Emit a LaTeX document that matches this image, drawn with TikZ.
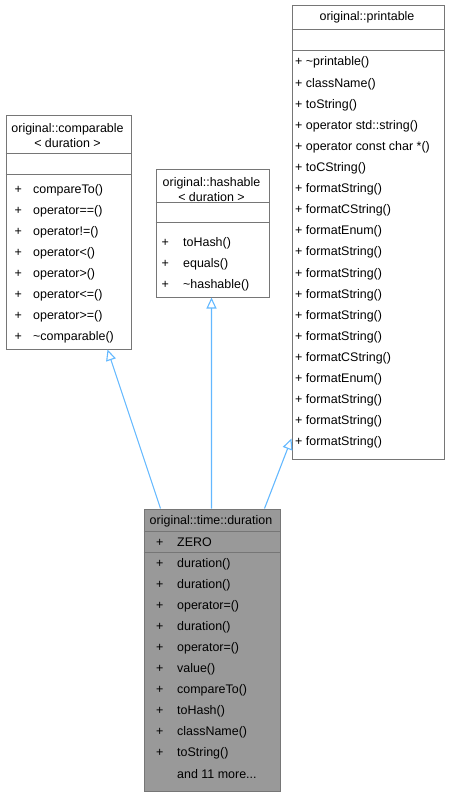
\documentclass[tikz,border=0pt]{standalone}
\usepackage{fontspec}
\setmainfont{Liberation Sans}
\usetikzlibrary{arrows.meta,positioning}
\definecolor{edge}{HTML}{63B8FF}
\definecolor{frame}{HTML}{767676}
\definecolor{current}{HTML}{999999}

\begin{document}
\begin{tikzpicture}[x=1bp,y=-1bp,font=\fontsize{12.5}{15}\selectfont,>={Triangle[open,length=11bp,width=10bp]}]
  \tikzset{cls/.style={draw=frame,line width=1bp,fill=white,anchor=north west,inner sep=0pt},
    sep/.style={draw=frame,line width=1bp},
    member/.style={anchor=base west,inner sep=0pt},
    title/.style={inner sep=0pt,align=center},
    inherit/.style={->,draw=edge,line width=1.1bp}}
  \useasboundingbox (0,0) rectangle (449,795);
  \node[cls,minimum width=125bp,minimum height=234bp] (comparable) at (5.5,114.5) {};
  \node[cls,minimum width=113bp,minimum height=128bp] (hashable) at (155.5,168.5) {};
  \node[cls,minimum width=152bp,minimum height=453bp] (printable) at (291.5,5.5) {};
  \node[cls,fill=current,minimum width=136bp,minimum height=282bp] (duration) at (143.5,508.5) {};
  \draw[sep] ([yshift=-39bp]comparable.north west) -- ([yshift=-39bp]comparable.north east);
  \draw[sep] ([yshift=-60bp]comparable.north west) -- ([yshift=-60bp]comparable.north east);
  \draw[sep] ([yshift=-34bp]hashable.north west) -- ([yshift=-34bp]hashable.north east);
  \draw[sep] ([yshift=-54bp]hashable.north west) -- ([yshift=-54bp]hashable.north east);
  \draw[sep] ([yshift=-24bp]printable.north west) -- ([yshift=-24bp]printable.north east);
  \draw[sep] ([yshift=-45bp]printable.north west) -- ([yshift=-45bp]printable.north east);
  \draw[sep] ([yshift=-23bp]duration.north west) -- ([yshift=-23bp]duration.north east);
  \draw[sep] ([yshift=-44bp]duration.north west) -- ([yshift=-44bp]duration.north east);
  \node[title] (comparable-name) at (67.5,136) {original::comparable\\< duration >};
  \node[title] (hashable-name) at (211.5,189.5) {original::hashable\\< duration >};
  \node[title,anchor=base] (printable-name) at (367,21) {original::printable};
  \node[title,anchor=base] (duration-name) at (211,524) {original::time::duration};
  \foreach \m [count=\i from 0] in {compareTo(),operator==(),operator!=(),operator<(),operator>(),operator<=(),operator>=(),\textasciitilde comparable()} {
    \node[member] (comparable-plus\i) at (14.5,193+21.1*\i) {+};
    \node[member] (comparable-m\i) at (33,193+21.1*\i) {\m};
  }
  \foreach \m [count=\i from 0] in {toHash(),equals(),\textasciitilde hashable()} {
    \node[member] (hashable-plus\i) at (161.5,246+21.1*\i) {+};
    \node[member] (hashable-m\i) at (183,246+21.1*\i) {\m};
  }
  \foreach \m [count=\i from 0] in {\textasciitilde printable(),className(),toString(),operator std::string(),operator const char *(),toCString(),formatString(),formatCString(),formatEnum(),formatString(),formatString(),formatString(),formatString(),formatString(),formatCString(),formatEnum(),formatString(),formatString(),formatString()} {
    \node[member] (printable-m\i) at (295,66+21.1*\i) {+ \m};
  }
  \node[member] (duration-plus) at (156,546) {+};
  \node[member] (duration-zero) at (177,546) {ZERO};
  \foreach \m [count=\i from 0] in {duration(),duration(),operator=(),duration(),operator=(),value(),compareTo(),toHash(),className(),toString()} {
    \node[member] (duration-plus\i) at (156,567+21.1*\i) {+};
    \node[member] (duration-m\i) at (177,567+21.1*\i) {\m};
  }
  \node[member] (duration-more) at (177,778) {and 11 more...};
  \draw[inherit] ([xshift=17bp]duration.north west) -- ([xshift=102bp]comparable.south west);
  \draw[inherit] ([xshift=68bp]duration.north west) -- ([xshift=56bp]hashable.south west);
  \draw[inherit] ([xshift=121bp]duration.north west) -- ([yshift=21bp]printable.south west);
\end{tikzpicture}
\end{document}
